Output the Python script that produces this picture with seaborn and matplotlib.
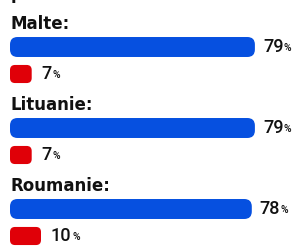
import pandas as pd
import matplotlib.pyplot as plt
import seaborn as sns
from matplotlib.patches import FancyBboxPatch

# data
countries = ['Malte', 'Lituanie', 'Roumanie']
oui = [79, 79, 78]
non = [7, 7, 10]

blue = '#0650E0'
red = '#E00008'

rows = []
order = []
for c, a, b in zip(countries, oui, non):
    order += [c + '|label', c + '|oui', c + '|non']
    rows.append({'row': c + '|oui', 'pct': a, 'serie': 'oui'})
    rows.append({'row': c + '|non', 'pct': b, 'serie': 'non'})
df = pd.DataFrame(rows)

sns.set_style('white')
fig = plt.figure(figsize=(2.98, 2.48), dpi=100)
ax = fig.add_axes([0, 0, 1, 1])

sns.barplot(data=df, x='pct', y='row', hue='serie', order=order,
            palette={'oui': blue, 'non': red}, dodge=False, orient='h',
            saturation=1, legend=False, ax=ax)

# pixel geometry: 3.1 px per %, 27 px per slot
px_x = 3.1
px_y = 27.0
ax.set_xlim(-10 / px_x, 288 / px_x)
ax.set_ylim((248 - 20) / px_y, -20 / px_y)
ax.axis('off')

# swap the square bars for rounded ones
for p in list(ax.patches):
    w = p.get_width()
    if not w or w != w:
        p.remove()
        continue
    yc = p.get_y() + p.get_height() / 2
    is_blue = p.get_facecolor()[2] > 0.5
    h = 0.74 if is_blue else 0.67
    r = 7.5 if is_blue else 5
    fb = FancyBboxPatch((0, yc - h / 2), w, h,
                        boxstyle='round,pad=0,rounding_size=%f' % (r / px_x),
                        mutation_aspect=(1 / px_y) / (1 / px_x),
                        fc=p.get_facecolor(), ec='none')
    p.remove()
    ax.add_patch(fb)

num_font = dict(family='Roboto', weight='medium', color='#111111')


def pct_label(x, y, val):
    t = ax.text(x, y, str(val), fontsize=13, va='center', ha='left', **num_font)
    ax.annotate('%', xy=(1, 0), xycoords=t, xytext=(0.4, 2.2),
                textcoords='offset points', fontsize=7.5, va='bottom',
                ha='left', **num_font)


for i, (c, a, b) in enumerate(zip(countries, oui, non)):
    k = 3 * i + 1
    ax.text(0, k - 0.85, c + ':', fontsize=12, fontweight='bold',
            family='DejaVu Sans', va='center', ha='left', color='#111111')
    pct_label(a + 8 / px_x, k + 0.0, a)
    pct_label(b + 10 / px_x, k + 1.0, b)

# cut-off heading above the chart
ax.text(0.3, -21 / px_y, 'p', fontsize=12, fontweight='bold',
        family='DejaVu Sans', va='baseline', ha='left', color='#111111')

fig.savefig('out.png', dpi=100, facecolor='white')
